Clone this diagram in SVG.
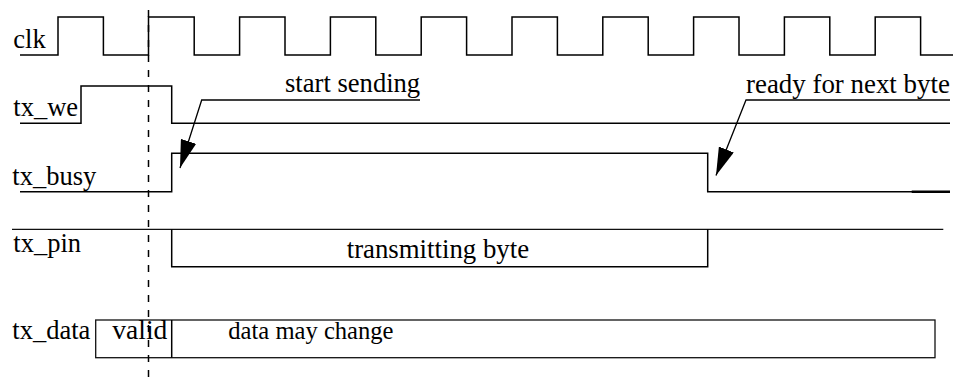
<svg xmlns="http://www.w3.org/2000/svg" width="958" height="380" viewBox="0 0 958 380">
<style>
.sig{fill:none;stroke:#000;stroke-width:1.5;stroke-linejoin:miter}
.thin{fill:none;stroke:#111;stroke-width:1.3}
.lead{fill:none;stroke:#000;stroke-width:1.3}
.dash{fill:none;stroke:#000;stroke-width:1.5;stroke-dasharray:7 8}
</style>
<defs>
<marker id="ah" viewBox="0 0 28 16" refX="28" refY="8" markerWidth="28" markerHeight="16" markerUnits="userSpaceOnUse" orient="auto">
<path d="M0,0 L28,8 L0,16 z" fill="#000"/>
</marker>
</defs>
<rect width="958" height="380" fill="#fff"/>
<g font-family="Liberation Serif, Times New Roman, serif" font-size="26.5" fill="#000">

<g id="clk">
<text x="13.3" y="47.5">clk</text>
<path class="sig" d="M20,55 H58 V17 H103.4 V55 H148.5 V17 H194.2 V55 H239.6 V17 H285 V55 H330.4 V17 H375.8 V55 H421.2 V17 H466.6 V55 H512 V17 H557.4 V55 H602.8 V17 H648.2 V55 H693.6 V17 H739 V55 H784.4 V17 H829.8 V55 H875.2 V17 H920.6 V55 H953"/>
</g>

<g id="tx_we">
<text x="13.3" y="116">tx_we</text>
<path class="sig" d="M20,123.3 H81 V86 H171.7 V123.3 H950"/>
</g>

<g id="tx_busy">
<text x="12.3" y="185">tx_busy</text>
<path class="sig" d="M20,191.7 H171.7 V153.3 H707.7 V191.7 H950"/>
<path d="M911.7,191.7 H950" stroke="#000" stroke-width="2.5" fill="none"/>
</g>

<g id="tx_pin">
<text x="13.3" y="251.5">tx_pin</text>
<path class="thin" d="M12,229.3 H943.3"/>
<path class="sig" d="M171.7,229.3 V266.7 H707.7 V229.3"/>
<text x="346.7" y="257.5" font-size="26.8">transmitting byte</text>
</g>

<g id="tx_data">
<text x="12.3" y="339">tx_data</text>
<rect class="thin" x="95.7" y="320" width="839.3" height="37.7"/>
<path class="sig" d="M171.7,320 V357.7"/>
<text x="112.3" y="339" font-size="27.5">valid</text>
<text x="228.3" y="339" font-size="24.6">data may change</text>
</g>

<g id="marker-line">
<path class="dash" d="M148.5,10 V380"/>
</g>

<g id="start_sending">
<text x="285" y="92" font-size="26.6">start sending</text>
</g>
<g id="ready_next">
<text x="746" y="93" font-size="26.9">ready for next byte</text>
</g>
</g>

<g id="connectors">
<path class="lead" d="M420,100 H201.7 L180,168" marker-end="url(#ah)"/>
<path class="lead" d="M950,100 H746 L716,175.5" marker-end="url(#ah)"/>
</g>
</svg>
